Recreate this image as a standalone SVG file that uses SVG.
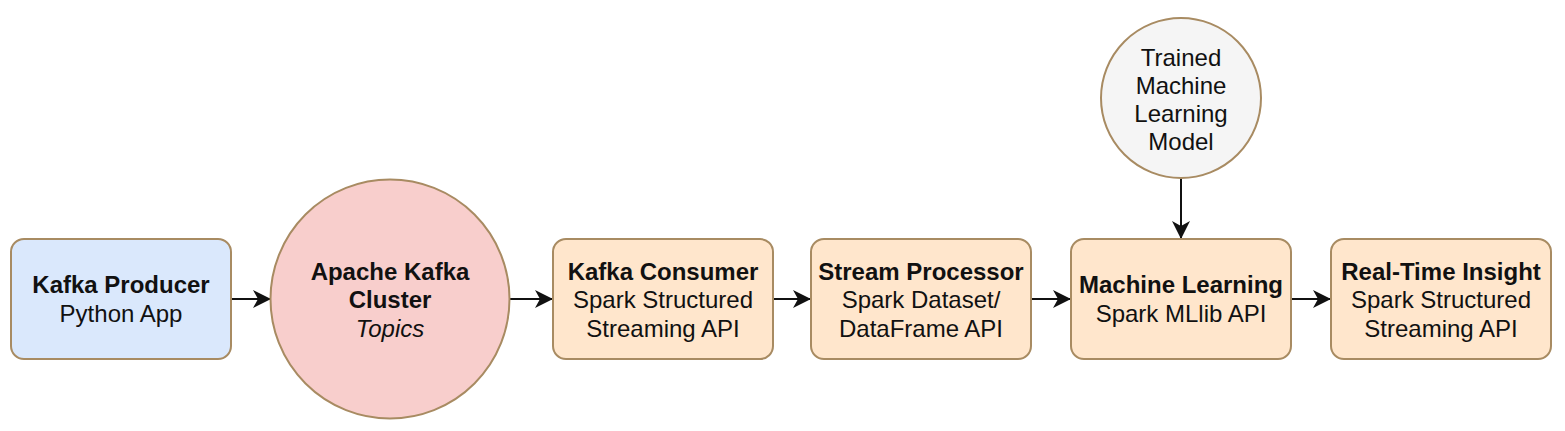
<svg xmlns="http://www.w3.org/2000/svg" width="1565" height="431" viewBox="0 0 1565 431">
<style>
.n{stroke:#a88b62;stroke-width:2}
.blue{fill:#dae8fc}
.red{fill:#f8cecc}
.or{fill:#ffe6cc}
.gr{fill:#f5f5f5}
text{font-family:"Liberation Sans",Arial,sans-serif;font-size:24px;fill:#111;text-anchor:middle}
.b{font-weight:bold}
.i{font-style:italic}
.c{stroke:#111;stroke-width:2;fill:none;marker-end:url(#ar)}
</style>
<defs>
<marker id="ar" markerWidth="20" markerHeight="18" refX="18" refY="9" orient="auto" markerUnits="userSpaceOnUse">
<path d="M0,0 L18,9 L0,18 L5,9 Z" fill="#111"/>
</marker>
</defs>
<rect width="1565" height="431" fill="#fff"/>
<g id="connectors">
<line class="c" x1="231" y1="299" x2="271" y2="299"/>
<line class="c" x1="510" y1="299" x2="553" y2="299"/>
<line class="c" x1="773" y1="299" x2="811" y2="299"/>
<line class="c" x1="1031" y1="299" x2="1071" y2="299"/>
<line class="c" x1="1291" y1="299" x2="1331" y2="299"/>
<line class="c" x1="1181" y1="178" x2="1181" y2="239"/>
</g>
<g id="producer">
<rect class="n blue" x="11" y="239" width="220" height="120" rx="13"/>
<text x="121" y="293" class="b">Kafka Producer</text>
<text x="121" y="322">Python App</text>
</g>
<g id="kafka-cluster">
<circle class="n red" cx="390" cy="299" r="119.5"/>
<text x="390" y="280" class="b">Apache Kafka</text>
<text x="390" y="308" class="b">Cluster</text>
<text x="390" y="337" class="i">Topics</text>
</g>
<g id="consumer">
<rect class="n or" x="553" y="239" width="220" height="120" rx="13"/>
<text x="663" y="280" class="b">Kafka Consumer</text>
<text x="663" y="308">Spark Structured</text>
<text x="663" y="337">Streaming API</text>
</g>
<g id="stream-processor">
<rect class="n or" x="811" y="239" width="220" height="120" rx="13"/>
<text x="921" y="280" class="b">Stream Processor</text>
<text x="921" y="308">Spark Dataset/</text>
<text x="921" y="337">DataFrame API</text>
</g>
<g id="machine-learning">
<rect class="n or" x="1071" y="239" width="220" height="120" rx="13"/>
<text x="1181" y="293" class="b">Machine Learning</text>
<text x="1181" y="322">Spark MLlib API</text>
</g>
<g id="real-time-insight">
<rect class="n or" x="1331" y="239" width="220" height="120" rx="13"/>
<text x="1441" y="280" class="b">Real-Time Insight</text>
<text x="1441" y="308">Spark Structured</text>
<text x="1441" y="337">Streaming API</text>
</g>
<g id="trained-model">
<circle class="n gr" cx="1181" cy="98" r="80"/>
<text x="1181" y="66">Trained</text>
<text x="1181" y="94">Machine</text>
<text x="1181" y="122">Learning</text>
<text x="1181" y="150">Model</text>
</g>
</svg>
